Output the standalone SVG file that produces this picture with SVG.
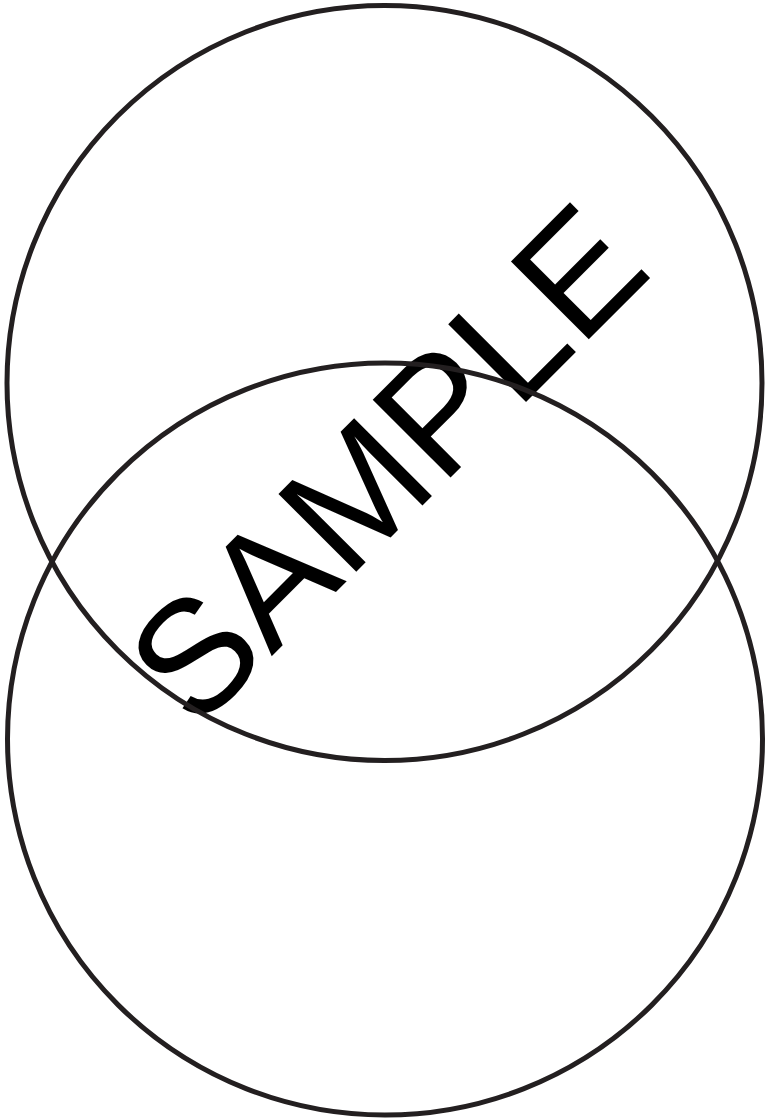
<svg xmlns="http://www.w3.org/2000/svg" width="768" height="1119" viewBox="0 0 768 1119">
<style>
.ring{fill:none;stroke:#231f20;stroke-width:5}
.wm{font-family:"Liberation Sans",Arial,sans-serif;font-size:160px;fill:#000}
</style>
<rect width="768" height="1119" fill="#fff"/>
<g id="watermark">
<text class="wm" x="0" y="0" transform="translate(196,732) rotate(-45)">SAMPLE</text>
</g>
<g id="circle-top">
<circle class="ring" cx="384.5" cy="383" r="377.5"/>
</g>
<g id="circle-bottom">
<ellipse class="ring" cx="385" cy="739" rx="377.5" ry="376"/>
</g>
<g id="connectors"></g>
</svg>
